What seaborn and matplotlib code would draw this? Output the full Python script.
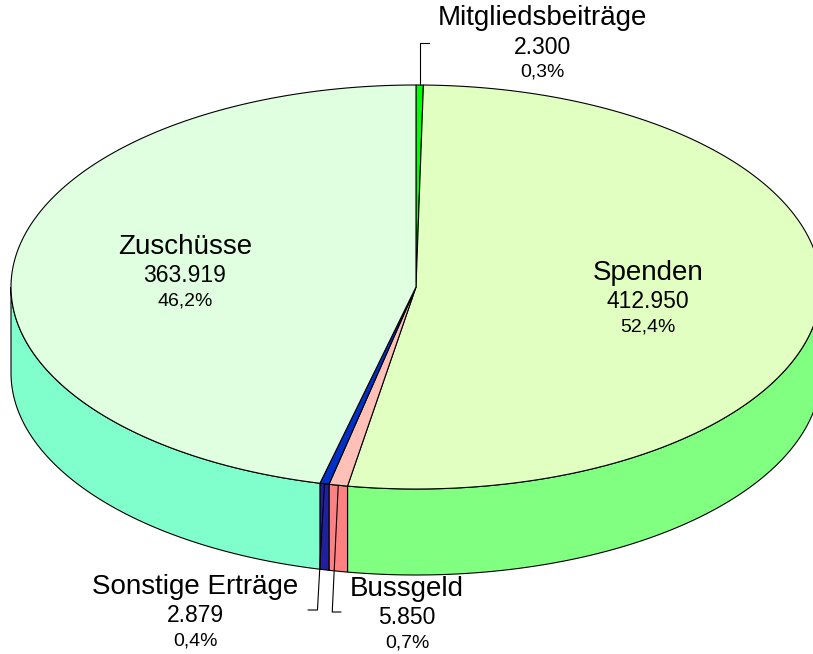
import numpy as np
import matplotlib
matplotlib.use("Agg")
import matplotlib.pyplot as plt
from matplotlib.patches import Polygon
import seaborn as sns

# Daten (Reihenfolge im Uhrzeigersinn ab 12 Uhr)
kategorien = ["Mitgliedsbeiträge", "Spenden", "Bussgeld", "Sonstige Erträge", "Zuschüsse"]
werte = [2300, 412950, 5850, 2879, 363919]
farben_oben = ["#00ff00", "#e0ffc0", "#ffc0b8", "#0030c8", "#e0ffe0"]
farben_seite = ["#00b000", "#80ff80", "#ff8080", "#20209c", "#80ffcc"]

# Beschriftungspositionen (Pixel): Name, Wert, Prozent
label_x = [542, 648, 407, 195, 185]
label_y = [18, 273, 589, 587, 247]

sns.set_theme(style="white")
plt.rcParams['font.family'] = ['Liberation Sans', 'DejaVu Sans']

W, H = 813, 654
fig = plt.figure(figsize=(W / 100, H / 100), dpi=100)
ax = fig.add_axes([0, 0, 1, 1])
ax.set_xlim(0, W)
ax.set_ylim(H, 0)
ax.axis('off')

# Geometrie der Torte
cx, cy, rx, ry, tiefe = 416, 287, 405, 202, 86


def punkte(t, dy=0.0):
    return np.column_stack([cx + rx * np.sin(t), cy - ry * np.cos(t) + dy])


gesamt = sum(werte)
anteile = np.array(werte) / gesamt
grenzen = np.concatenate([[0], np.cumsum(anteile)]) * 2 * np.pi

# Seitenflächen (nur vordere Hälfte sichtbar)
for i in range(len(werte)):
    t0, t1 = grenzen[i], grenzen[i + 1]
    ta, tb = max(t0, np.pi / 2), min(t1, 3 * np.pi / 2)
    if ta >= tb:
        continue
    t = np.linspace(ta, tb, 200)
    oben = punkte(t)
    unten = punkte(t[::-1], tiefe)
    ax.add_patch(Polygon(np.vstack([oben, unten]), closed=True,
                         facecolor=farben_seite[i], edgecolor='black', lw=0.8))

# Deckflächen
for i in range(len(werte)):
    t0, t1 = grenzen[i], grenzen[i + 1]
    t = np.linspace(t0, t1, max(int(400 * anteile[i]), 5))
    poly = np.vstack([[cx, cy], punkte(t)])
    ax.add_patch(Polygon(poly, closed=True, facecolor=farben_oben[i],
                         edgecolor='black', lw=0.8))

# Beschriftungen
for i, name in enumerate(kategorien):
    wert_txt = f"{werte[i]:,}".replace(",", ".")
    proz_txt = f"{anteile[i] * 100:.1f}%".replace(".", ",")
    x, y = label_x[i], label_y[i]
    ax.text(x, y, name, ha='center', va='center', fontsize=20, color='black')
    ax.text(x, y + 29, wert_txt, ha='center', va='center', fontsize=16.5, color='black')
    ax.text(x, y + 54, proz_txt, ha='center', va='center', fontsize=14, color='black')

# Führungslinien für kleine Segmente
def fuehrung(i, knick_y, ende_x, knick_dx=0):
    tm = (grenzen[i] + grenzen[i + 1]) / 2
    px, py = punkte(np.array([tm]))[0]
    ax.plot([px, px + knick_dx, ende_x], [py, knick_y, knick_y], color='black', lw=0.8)

fuehrung(0, 43, 429)
fuehrung(2, 612, 341, -6)
fuehrung(3, 610, 308, -7)

fig.savefig("out.png", dpi=100)
